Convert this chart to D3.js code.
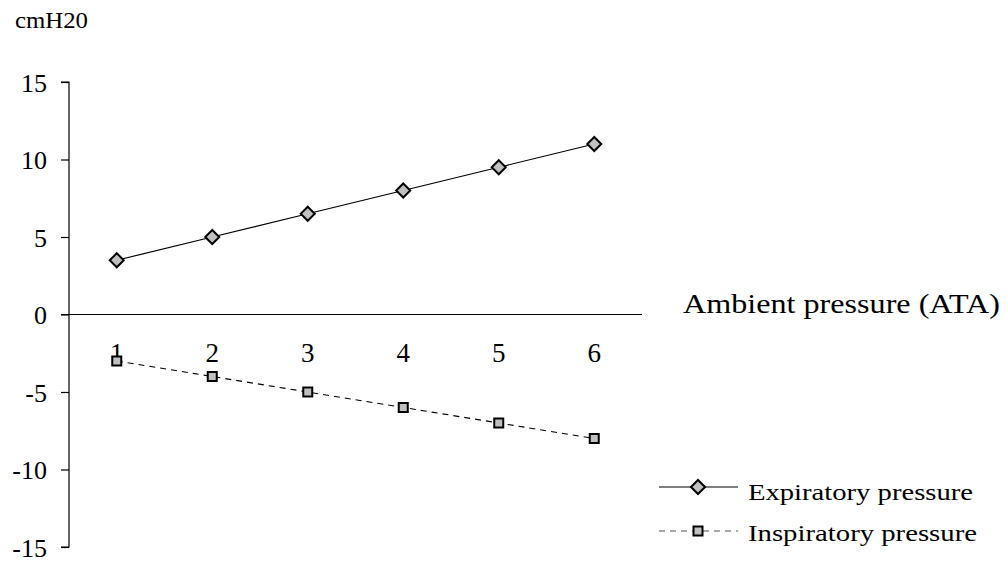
<!DOCTYPE html>
<html>
<head>
<meta charset="utf-8">
<script src="https://cdn.jsdelivr.net/npm/d3@7"></script>
<style>
  body { margin: 0; background: #fff; }
  text { font-family: "Liberation Serif", "Times New Roman", serif; fill: #000; }
</style>
</head>
<body>
<script>
const categories = ["1", "2", "3", "4", "5", "6"];
const expiratory = [3.5, 5, 6.5, 8, 9.5, 11];
const inspiratory = [-3, -4, -5, -6, -7, -8];
const yTicks = [15, 10, 5, 0, -5, -10, -15];
const seriesNames = ["Expiratory pressure", "Inspiratory pressure"];

const width = 1007, height = 566;

const svg = d3.select("body").append("svg")
    .attr("width", width)
    .attr("height", height);

const x = d3.scaleBand().domain(categories).range([69, 642]);
const y = d3.scaleLinear().domain([-15, 15]).range([547, 82]);
const cx = (i) => x(categories[i]) + x.bandwidth() / 2;

// y axis
const yAxis = svg.append("g")
    .attr("transform", "translate(69,0)")
    .call(d3.axisLeft(y).tickValues(yTicks).tickSize(8).tickPadding(14).tickFormat((d) => String(d)));
yAxis.select(".domain").attr("stroke", "#000").attr("stroke-width", 1.2).attr("d", `M-8,${y(15)}H0V${y(-15)}H-8`);
yAxis.selectAll(".tick line").attr("stroke", "#000").attr("stroke-width", 1.2);
yAxis.selectAll(".tick text").style("font-size", "26px").attr("dy", "0.35em");

// x axis at zero
svg.append("line")
    .attr("x1", 61).attr("x2", 642)
    .attr("y1", y(0)).attr("y2", y(0))
    .attr("stroke", "#000").attr("stroke-width", 1.2);

svg.append("g").selectAll("text")
    .data(categories)
    .enter()
    .append("text")
    .attr("x", (d) => x(d) + x.bandwidth() / 2)
    .attr("y", y(0) + 47)
    .attr("text-anchor", "middle")
    .style("font-size", "27px")
    .text((d) => d);

svg.append("text")
    .attr("x", 683).attr("y", 313)
    .style("font-size", "27px")
    .attr("textLength", 317)
    .attr("lengthAdjust", "spacingAndGlyphs")
    .text("Ambient pressure (ATA)");

svg.append("text")
    .attr("x", 15).attr("y", 28)
    .style("font-size", "23px")
    .attr("textLength", 73)
    .attr("lengthAdjust", "spacingAndGlyphs")
    .text("cmH20");

const line = d3.line().x((d, i) => cx(i)).y((d) => y(d));

svg.append("path")
    .datum(expiratory)
    .attr("d", line)
    .attr("fill", "none")
    .attr("stroke", "#000")
    .attr("stroke-width", 1.2);

svg.append("path")
    .datum(inspiratory)
    .attr("d", line)
    .attr("fill", "none")
    .attr("stroke", "#000")
    .attr("stroke-width", 1.1)
    .attr("stroke-dasharray", "6,5");

const diamond = (g, px, py) => g.append("path")
    .attr("d", `M${px},${py - 7}L${px + 7},${py}L${px},${py + 7}L${px - 7},${py}Z`)
    .attr("fill", "#c0c0c0")
    .attr("stroke", "#000")
    .attr("stroke-width", 2);

const square = (g, px, py) => g.append("rect")
    .attr("x", px - 4.5).attr("y", py - 4.5)
    .attr("width", 9).attr("height", 9)
    .attr("fill", "#c0c0c0")
    .attr("stroke", "#000")
    .attr("stroke-width", 2);

const markers = svg.append("g");
expiratory.forEach((v, i) => diamond(markers, cx(i), y(v)));
inspiratory.forEach((v, i) => square(markers, cx(i), y(v)));

// legend
const legend = svg.append("g");
legend.append("line").attr("x1", 659).attr("x2", 738).attr("y1", 487).attr("y2", 487)
    .attr("stroke", "#000").attr("stroke-width", 1.2);
diamond(legend, 698, 487);
legend.append("text").attr("x", 748).attr("y", 500).style("font-size", "24px")
    .attr("textLength", 225).attr("lengthAdjust", "spacingAndGlyphs").text(seriesNames[0]);

legend.append("line").attr("x1", 659).attr("x2", 738).attr("y1", 531).attr("y2", 531)
    .attr("stroke", "#555").attr("stroke-width", 1.1).attr("stroke-dasharray", "6,5");
square(legend, 698, 531);
legend.append("text").attr("x", 748).attr("y", 541).style("font-size", "24px")
    .attr("textLength", 229).attr("lengthAdjust", "spacingAndGlyphs").text(seriesNames[1]);
</script>
</body>
</html>
